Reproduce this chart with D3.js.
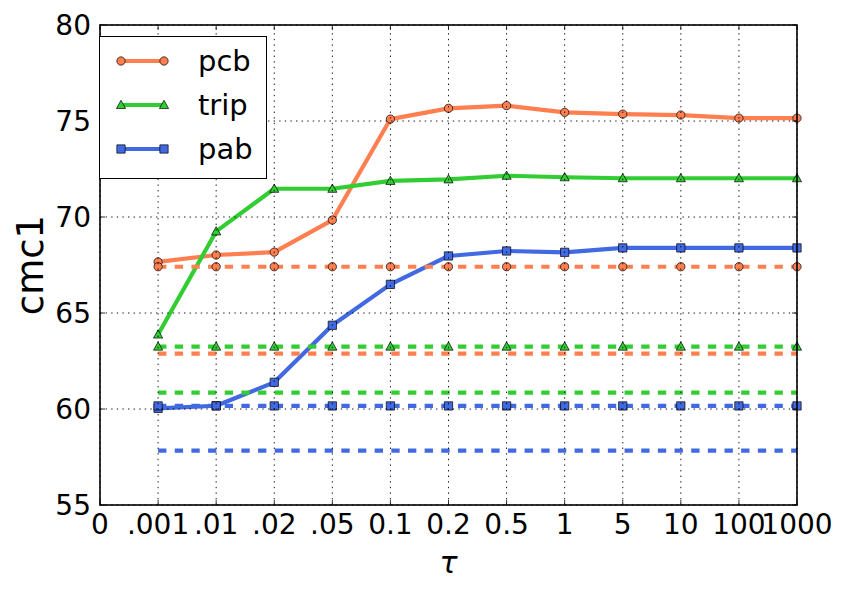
<!DOCTYPE html>
<html>
<head>
<meta charset="utf-8">
<script src="https://cdn.jsdelivr.net/npm/d3@7"></script>
<style>
  html, body { margin: 0; padding: 0; background: #fff; }
  svg { display: block; font-family: "DejaVu Sans", sans-serif; }
</style>
</head>
<body>
<svg id="chart" width="842" height="593"></svg>
<script>
// ---- data ----
const xLabels = ["0", ".001", ".01", ".02", ".05", "0.1", "0.2", "0.5", "1", "5", "10", "100", "1000"];
const tauLabels = [".001", ".01", ".02", ".05", "0.1", "0.2", "0.5", "1", "5", "10", "100", "1000"];
const yTicks = [55, 60, 65, 70, 75, 80];

const pcb  = [67.66, 68.02, 68.17, 69.84, 75.10, 75.66, 75.80, 75.45, 75.36, 75.31, 75.15, 75.15];
const trip = [63.88, 69.25, 71.47, 71.47, 71.88, 71.96, 72.15, 72.07, 72.02, 72.02, 72.02, 72.02];
const pab  = [60.03, 60.17, 61.39, 64.36, 66.49, 67.97, 68.23, 68.16, 68.39, 68.39, 68.39, 68.39];

// baselines: [with markers, without markers]
const pcbBase  = [67.41, 62.88];
const tripBase = [63.25, 60.85];
const pabBase  = [60.16, 57.83];

const seriesNames = ["pcb", "trip", "pab"];
const seriesColors = ["#FF7F50", "#32CD32", "#4169E1"];
const seriesMarkers = ["circle", "triangle", "square"];

// ---- layout ----
const L = 100, R = 797, T = 25, B = 505;
const svg = d3.select("#chart");

const x = d3.scalePoint().domain(xLabels).range([L, R]).padding(0);
const y = d3.scaleLinear().domain([55, 80]).range([B, T]);

const lineGen = d3.line().x(d => x(d.k)).y(d => y(d.v));

function markerPath(type, size) {
  const s = size;
  if (type === "circle") return d3.symbol(d3.symbolCircle, Math.PI * (s / 2) * (s / 2))();
  if (type === "square") return d3.symbol(d3.symbolSquare, s * s)();
  const h = s * 0.95;
  return `M0,${-h * 0.6}L${s * 0.55},${h * 0.45}L${-s * 0.55},${h * 0.45}Z`;
}

const plot = svg.append("g");

const allSeries = [pcb, trip, pab];
const allBases = [pcbBase, tripBase, pabBase];

function drawMarkers(g, pts, type, color) {
  g.selectAll(null).data(pts).enter().append("path")
    .attr("d", markerPath(type, 8.3))
    .attr("transform", d => `translate(${x(d.k)},${y(d.v)})`)
    .attr("fill", color).attr("stroke", "#000").attr("stroke-width", 0.7);
}

allSeries.forEach((vals, i) => {
  const color = seriesColors[i];
  const pts = tauLabels.map((k, j) => ({ k, v: vals[j] }));
  plot.append("path").datum(pts).attr("d", lineGen)
    .attr("fill", "none").attr("stroke", color).attr("stroke-width", 4.17)
    .attr("stroke-linejoin", "round");
  drawMarkers(plot, pts, seriesMarkers[i], color);
});

allBases.forEach((bases, i) => {
  const color = seriesColors[i];
  bases.forEach((b, bi) => {
    const pts = tauLabels.map(k => ({ k, v: b }));
    plot.append("path").datum(pts).attr("d", lineGen)
      .attr("fill", "none").attr("stroke", color).attr("stroke-width", 4.17)
      .attr("stroke-dasharray", "8.33,8.33");
    if (bi === 0) drawMarkers(plot, pts, seriesMarkers[i], color);
  });
});

// ---- grid (drawn on top, like matplotlib classic) ----
const grid = svg.append("g").attr("stroke", "#000").attr("stroke-width", 1)
  .attr("stroke-dasharray", "1.4,4.2").attr("opacity", 0.9);
xLabels.forEach(k => {
  grid.append("line").attr("x1", x(k)).attr("x2", x(k)).attr("y1", B).attr("y2", T);
});
yTicks.forEach(v => {
  grid.append("line").attr("x1", L).attr("x2", R).attr("y1", y(v)).attr("y2", y(v));
});

// ---- axes frame & ticks ----
const axisG = svg.append("g");
const tl = 5;
xLabels.forEach(k => {
  axisG.append("line").attr("x1", x(k)).attr("x2", x(k)).attr("y1", B).attr("y2", B - tl)
    .attr("stroke", "#000").attr("stroke-width", 0.8);
  axisG.append("line").attr("x1", x(k)).attr("x2", x(k)).attr("y1", T).attr("y2", T + tl)
    .attr("stroke", "#000").attr("stroke-width", 0.8);
  axisG.append("text").attr("x", x(k)).attr("y", 533.5).attr("text-anchor", "middle")
    .attr("font-size", 28).attr("fill", "#000").text(k);
});
yTicks.forEach(v => {
  axisG.append("line").attr("x1", L).attr("x2", L + tl).attr("y1", y(v)).attr("y2", y(v))
    .attr("stroke", "#000").attr("stroke-width", 0.8);
  axisG.append("line").attr("x1", R).attr("x2", R - tl).attr("y1", y(v)).attr("y2", y(v))
    .attr("stroke", "#000").attr("stroke-width", 0.8);
  axisG.append("text").attr("x", 91).attr("y", y(v) + 10).attr("text-anchor", "end")
    .attr("font-size", 28).attr("fill", "#000").text(v);
});
axisG.append("rect").attr("x", L).attr("y", T).attr("width", R - L).attr("height", B - T)
  .attr("fill", "none").attr("stroke", "#000").attr("stroke-width", 1.6);

// axis labels
svg.append("text").attr("transform", `translate(43,265) rotate(-90)`)
  .attr("text-anchor", "middle").attr("font-size", 37).attr("fill", "#000").text("cmc1");
svg.append("text").attr("x", (L + R) / 2).attr("y", 573).attr("text-anchor", "middle")
  .attr("font-size", 30).attr("font-style", "italic").attr("fill", "#000").text("τ");

// ---- legend ----
const lg = svg.append("g");
lg.append("rect").attr("x", 99.5).attr("y", 36.5).attr("width", 167).attr("height", 142)
  .attr("fill", "#fff").attr("stroke", "#000").attr("stroke-width", 1);
seriesNames.forEach((name, i) => {
  const cy = 61 + i * 44;
  lg.append("line").attr("x1", 121).attr("x2", 164).attr("y1", cy).attr("y2", cy)
    .attr("stroke", seriesColors[i]).attr("stroke-width", 4.17);
  [121, 164].forEach(cx => {
    lg.append("path").attr("d", markerPath(seriesMarkers[i], 8.3))
      .attr("transform", `translate(${cx},${cy})`)
      .attr("fill", seriesColors[i]).attr("stroke", "#000").attr("stroke-width", 0.7);
  });
  lg.append("text").attr("x", 198).attr("y", cy + 10).attr("font-size", 29)
    .attr("fill", "#000").text(name);
});
</script>
</body>
</html>
